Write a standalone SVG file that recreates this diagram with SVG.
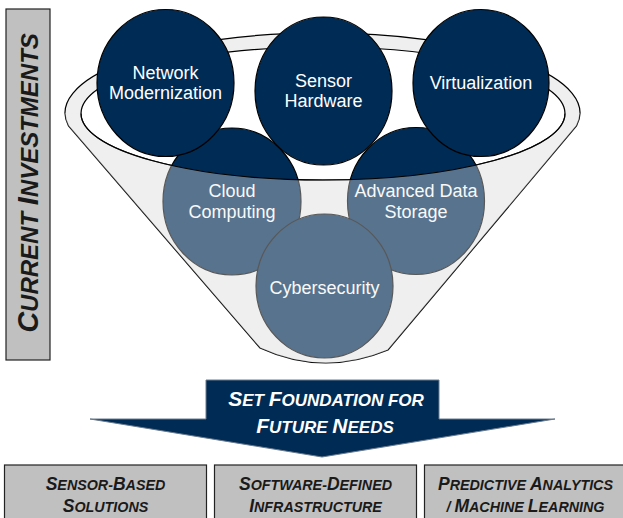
<svg xmlns="http://www.w3.org/2000/svg" width="623" height="518" viewBox="0 0 623 518">
<style>
.bg{fill:#ffffff}
.navy{fill:#002b55;stroke:#000;stroke-width:1.2}
.lbl{font-family:"Liberation Sans",Arial,sans-serif;font-size:18px;fill:#ffffff;text-anchor:middle}
.cap{font-family:"Liberation Sans",Arial,sans-serif;font-weight:bold;font-style:italic;text-anchor:middle}
.box{fill:#c0c0c0;stroke:#222;stroke-width:1.2}
</style>
<rect class="bg" x="0" y="0" width="623" height="518"/>
<g id="current-investments">
<rect class="box" x="6" y="9" width="44" height="351"/>
<text class="cap" fill="#1a1a1a" transform="translate(38,183) rotate(-90)"><tspan font-size="29">C</tspan><tspan font-size="24">URRENT </tspan><tspan font-size="29">I</tspan><tspan font-size="24">NVESTMENTS</tspan></text>
</g>
<g id="funnel">
<path d="M 68.5,126 A 257.5 80 0 1 1 576.5,126 L 388,350 Q 323,377 260,348 Z" fill="#efefef" stroke="#000" stroke-width="1.2"/>
<ellipse cx="323" cy="113.5" rx="242" ry="66.5" fill="#ffffff" stroke="#000" stroke-width="1.2"/>
</g>
<g id="cloud-computing">
<ellipse class="navy" cx="232" cy="201.5" rx="69" ry="73.5"/>
<text class="lbl" x="232" y="197">Cloud</text>
<text class="lbl" x="232" y="217.5">Computing</text>
</g>
<g id="advanced-data-storage">
<ellipse class="navy" cx="416" cy="201" rx="68.5" ry="73.5"/>
<text class="lbl" x="416" y="197">Advanced Data</text>
<text class="lbl" x="416" y="217.5">Storage</text>
</g>
<g id="cybersecurity">
<ellipse class="navy" cx="324.5" cy="286" rx="68.5" ry="72"/>
<text class="lbl" x="324.5" y="294">Cybersecurity</text>
</g>
<g id="network-modernization">
<ellipse class="navy" cx="165.5" cy="83" rx="68.5" ry="73.5"/>
<text class="lbl" x="165.5" y="78.5">Network</text>
<text class="lbl" x="165.5" y="99">Modernization</text>
</g>
<g id="sensor-hardware">
<ellipse class="navy" cx="323.5" cy="91" rx="68.5" ry="74"/>
<text class="lbl" x="323.5" y="86.5">Sensor</text>
<text class="lbl" x="323.5" y="107">Hardware</text>
</g>
<g id="virtualization">
<ellipse class="navy" cx="481" cy="83" rx="68" ry="73.5"/>
<text class="lbl" x="481" y="89">Virtualization</text>
</g>
<g id="funnel-front">
<path d="M 81,113.5 A 242 66.5 0 0 0 565,113.5 L 580,113 A 257.5 80 0 0 1 576.5,126 L 388,350 Q 323,377 260,348 L 68.5,126 A 257.5 80 0 0 1 65,113 Z" fill="#efefef" fill-opacity="0.37"/>
<path d="M 81,113.5 A 242 66.5 0 0 0 565,113.5" fill="none" stroke="#000" stroke-width="1.2"/>
</g>
<g id="connectors"></g>
<g id="foundation-arrow">
<polygon points="206,380 439,380 439,419 555,419 322,457 90,419 206,419" fill="#002b55" stroke="#6b7a8c" stroke-width="1"/>
<text class="cap" fill="#ffffff" x="326" y="405.5"><tspan font-size="21">S</tspan><tspan font-size="17">ET </tspan><tspan font-size="21">F</tspan><tspan font-size="17">OUNDATION FOR</tspan></text>
<text class="cap" fill="#ffffff" x="325" y="433"><tspan font-size="21">F</tspan><tspan font-size="17">UTURE </tspan><tspan font-size="21">N</tspan><tspan font-size="17">EEDS</tspan></text>
</g>
<g id="sensor-based-solutions">
<rect class="box" x="4.5" y="465" width="202" height="60"/>
<text class="cap" fill="#1a1a1a" x="105.5" y="490"><tspan font-size="17.5">S</tspan><tspan font-size="14.3">ENSOR-</tspan><tspan font-size="17.5">B</tspan><tspan font-size="14.3">ASED</tspan></text>
<text class="cap" fill="#1a1a1a" x="105.5" y="512"><tspan font-size="17.5">S</tspan><tspan font-size="14.3">OLUTIONS</tspan></text>
</g>
<g id="software-defined-infrastructure">
<rect class="box" x="214.5" y="465" width="202" height="60"/>
<text class="cap" fill="#1a1a1a" x="315.5" y="490"><tspan font-size="17.5">S</tspan><tspan font-size="14.3">OFTWARE-</tspan><tspan font-size="17.5">D</tspan><tspan font-size="14.3">EFINED</tspan></text>
<text class="cap" fill="#1a1a1a" x="315.5" y="512"><tspan font-size="17.5">I</tspan><tspan font-size="14.3">NFRASTRUCTURE</tspan></text>
</g>
<g id="predictive-analytics">
<rect class="box" x="424.5" y="465" width="202" height="60"/>
<text class="cap" fill="#1a1a1a" x="525.5" y="490"><tspan font-size="17.5">P</tspan><tspan font-size="14.3">REDICTIVE </tspan><tspan font-size="17.5">A</tspan><tspan font-size="14.3">NALYTICS</tspan></text>
<text class="cap" fill="#1a1a1a" x="525.5" y="512"><tspan font-size="14.3">/ </tspan><tspan font-size="17.5">M</tspan><tspan font-size="14.3">ACHINE </tspan><tspan font-size="17.5">L</tspan><tspan font-size="14.3">EARNING</tspan></text>
</g>
</svg>
